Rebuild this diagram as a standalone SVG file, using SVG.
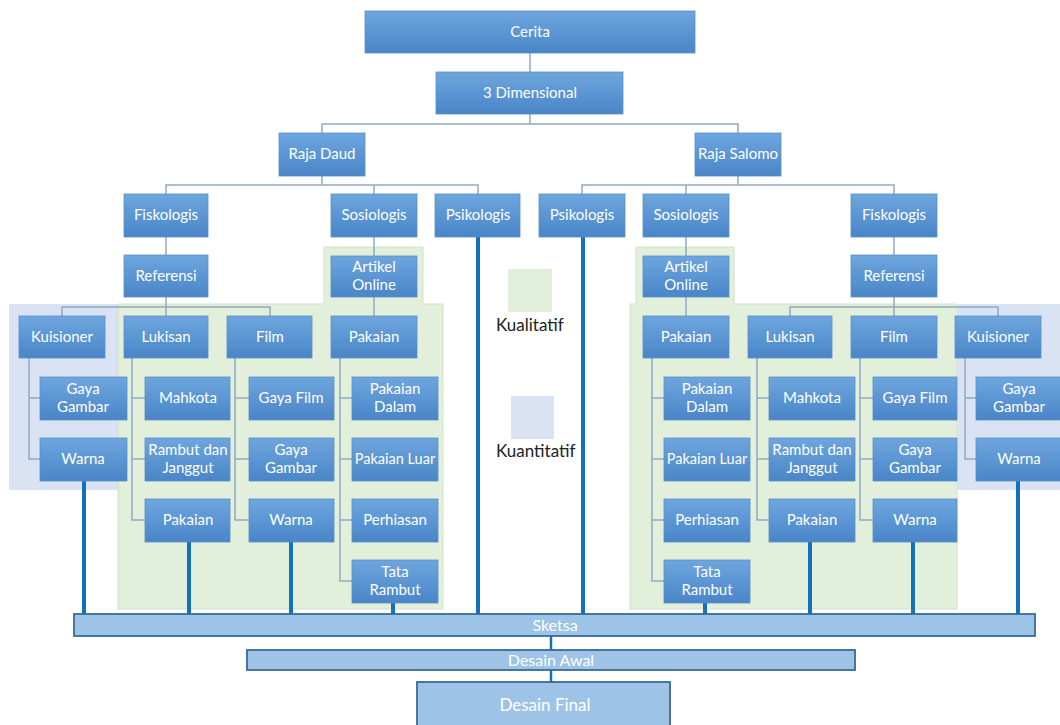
<svg xmlns="http://www.w3.org/2000/svg" width="1060" height="725" viewBox="0 0 1060 725">
<defs>
<linearGradient id="nodeGrad" x1="0" y1="0" x2="0" y2="1">
<stop offset="0" stop-color="#6ea6de"/>
<stop offset="1" stop-color="#4985c8"/>
</linearGradient>
<style>
.n rect{fill:url(#nodeGrad);stroke:#5a8fc8;stroke-width:0.8}
.n text{font-family:Lato,"Liberation Sans",sans-serif;font-size:15px;fill:#ffffff;text-anchor:middle}
.c{fill:none;stroke:#8eaac4;stroke-width:1.5}
.t{fill:none;stroke:#1270bd;stroke-width:4}
.bar rect{fill:#9dc3e6;stroke:#3b6a98;stroke-width:1.8}
.bar text{font-family:Lato,"Liberation Sans",sans-serif;font-size:16px;fill:#ffffff;text-anchor:middle}
.green{fill:#e2efda;stroke:#d2e0c8;stroke-width:1}
.blue{fill:#dae3f3;stroke:none}
.lg{font-family:Lato,"Liberation Sans",sans-serif;font-size:17px;fill:#222222}
</style>
</defs>
<rect width="1060" height="725" fill="#ffffff"/>

<g id="backgrounds">
<rect class="blue" x="9" y="304" width="109" height="186"/>
<path class="green" d="M118 304 H324 V247 H423 V304 H443 V609 H118 Z"/>
<path class="green" d="M630 304 H636 V247 H734 V304 H957 V609 H630 Z"/>
<rect class="blue" x="957" y="304" width="103" height="186"/>
</g>

<g id="legend">
<rect x="508" y="269" width="44" height="43" fill="#e2efda"/>
<text class="lg" x="496" y="331">Kualitatif</text>
<rect x="511" y="396" width="43" height="43" fill="#dae3f3"/>
<text class="lg" x="496" y="457">Kuantitatif</text>
</g>

<g id="connectors">
<path class="c" d="M530 53 V72"/>
<path class="c" d="M530 114 V124 M322 133 V124 H738 V133"/>
<path class="c" d="M322 176 V185 M166 194 V185 H478 V194 M374 185 V194"/>
<path class="c" d="M738 176 V185 M582 194 V185 H894 V194 M686 185 V194"/>
<path class="c" d="M166 237 V255 M374 237 V256 M894 237 V255 M686 237 V256"/>
<path class="c" d="M166 297 V316 M62 316 V307 H270 V316"/>
<path class="c" d="M374 297 V316"/>
<path class="c" d="M894 297 V316 M790 316 V307 H998 V316"/>
<path class="c" d="M686 297 V316"/>
<path class="c" d="M29 358 V459 H40 M29 398 H40"/>
<path class="c" d="M132 358 V520 H145 M132 398 H145 M132 459 H145"/>
<path class="c" d="M235 358 V520 H249 M235 398 H249 M235 459 H249"/>
<path class="c" d="M340 358 V581 H352 M340 398 H352 M340 459 H352 M340 520 H352"/>
<path class="c" d="M652 358 V581 H664 M652 398 H664 M652 459 H664 M652 520 H664"/>
<path class="c" d="M757 358 V520 H769 M757 398 H769 M757 459 H769"/>
<path class="c" d="M860 358 V520 H873 M860 398 H873 M860 459 H873"/>
<path class="c" d="M965 358 V459 H976 M965 398 H976"/>
<path class="t" d="M84 481 V614 M189 542 V614 M291 542 V614 M393 603 V614 M478 237 V614 M583 237 V614 M705 603 V614 M810 542 V614 M913 542 V614 M1018 481 V614"/>
<path class="t" style="stroke-width:2.5" d="M551 636 V650 M551 670 V682"/>
</g>

<g id="n-cerita" class="n"><rect x="365" y="11" width="330" height="42"/><text x="530" y="37">Cerita</text></g>
<g id="n-3d" class="n"><rect x="436" y="72" width="187" height="42"/><text x="530" y="98">3 Dimensional</text></g>
<g id="n-rajadaud" class="n"><rect x="279" y="133" width="86" height="43"/><text x="322" y="159">Raja Daud</text></g>
<g id="n-rajasalomo" class="n"><rect x="695" y="133" width="86" height="43"/><text x="738" y="159">Raja Salomo</text></g>

<g id="n-fisk-l" class="n"><rect x="124" y="194" width="84" height="43"/><text x="166" y="220">Fiskologis</text></g>
<g id="n-sos-l" class="n"><rect x="331" y="194" width="86" height="43"/><text x="374" y="220">Sosiologis</text></g>
<g id="n-psi-l" class="n"><rect x="435" y="194" width="85" height="43"/><text x="478" y="220">Psikologis</text></g>
<g id="n-psi-r" class="n"><rect x="539" y="194" width="86" height="43"/><text x="582" y="220">Psikologis</text></g>
<g id="n-sos-r" class="n"><rect x="643" y="194" width="86" height="43"/><text x="686" y="220">Sosiologis</text></g>
<g id="n-fisk-r" class="n"><rect x="851" y="194" width="86" height="43"/><text x="894" y="220">Fiskologis</text></g>

<g id="n-ref-l" class="n"><rect x="124" y="255" width="84" height="42"/><text x="166" y="281">Referensi</text></g>
<g id="n-art-l" class="n"><rect x="331" y="256" width="86" height="41"/><text x="374" y="272">Artikel</text><text x="374" y="290">Online</text></g>
<g id="n-art-r" class="n"><rect x="643" y="256" width="86" height="41"/><text x="686" y="272">Artikel</text><text x="686" y="290">Online</text></g>
<g id="n-ref-r" class="n"><rect x="851" y="255" width="86" height="42"/><text x="894" y="281">Referensi</text></g>

<g id="n-kuis-l" class="n"><rect x="19" y="316" width="86" height="42"/><text x="62" y="342">Kuisioner</text></g>
<g id="n-luk-l" class="n"><rect x="124" y="316" width="84" height="42"/><text x="166" y="342">Lukisan</text></g>
<g id="n-film-l" class="n"><rect x="227" y="316" width="85" height="42"/><text x="270" y="342">Film</text></g>
<g id="n-pak-l" class="n"><rect x="331" y="316" width="86" height="42"/><text x="374" y="342">Pakaian</text></g>
<g id="n-pak-r" class="n"><rect x="643" y="316" width="86" height="42"/><text x="686" y="342">Pakaian</text></g>
<g id="n-luk-r" class="n"><rect x="748" y="316" width="84" height="42"/><text x="790" y="342">Lukisan</text></g>
<g id="n-film-r" class="n"><rect x="851" y="316" width="86" height="42"/><text x="894" y="342">Film</text></g>
<g id="n-kuis-r" class="n"><rect x="955" y="316" width="86" height="42"/><text x="998" y="342">Kuisioner</text></g>

<g id="n-gg1-l" class="n"><rect x="40" y="377" width="87" height="43"/><text x="83" y="394">Gaya</text><text x="83" y="412">Gambar</text></g>
<g id="n-warna1-l" class="n"><rect x="40" y="438" width="87" height="43"/><text x="83" y="464">Warna</text></g>
<g id="n-mahkota-l" class="n"><rect x="145" y="377" width="85" height="43"/><text x="188" y="403">Mahkota</text></g>
<g id="n-rambut-l" class="n"><rect x="145" y="438" width="85" height="43"/><text x="188" y="455">Rambut dan</text><text x="188" y="473">Janggut</text></g>
<g id="n-pak2-l" class="n"><rect x="145" y="499" width="85" height="43"/><text x="188" y="525">Pakaian</text></g>
<g id="n-gfilm-l" class="n"><rect x="249" y="377" width="85" height="43"/><text x="291" y="403">Gaya Film</text></g>
<g id="n-gg2-l" class="n"><rect x="249" y="438" width="85" height="43"/><text x="291" y="455">Gaya</text><text x="291" y="473">Gambar</text></g>
<g id="n-warna2-l" class="n"><rect x="249" y="499" width="85" height="43"/><text x="291" y="525">Warna</text></g>
<g id="n-pdalam-l" class="n"><rect x="352" y="377" width="86" height="43"/><text x="395" y="394">Pakaian</text><text x="395" y="412">Dalam</text></g>
<g id="n-pluar-l" class="n"><rect x="352" y="438" width="86" height="43"/><text x="395" y="464" style="font-size:14.5px">Pakaian Luar</text></g>
<g id="n-perh-l" class="n"><rect x="352" y="499" width="86" height="43"/><text x="395" y="525">Perhiasan</text></g>
<g id="n-tata-l" class="n"><rect x="352" y="560" width="86" height="43"/><text x="395" y="577">Tata</text><text x="395" y="595">Rambut</text></g>

<g id="n-pdalam-r" class="n"><rect x="664" y="377" width="86" height="43"/><text x="707" y="394">Pakaian</text><text x="707" y="412">Dalam</text></g>
<g id="n-pluar-r" class="n"><rect x="664" y="438" width="86" height="43"/><text x="707" y="464" style="font-size:14.5px">Pakaian Luar</text></g>
<g id="n-perh-r" class="n"><rect x="664" y="499" width="86" height="43"/><text x="707" y="525">Perhiasan</text></g>
<g id="n-tata-r" class="n"><rect x="664" y="560" width="86" height="43"/><text x="707" y="577">Tata</text><text x="707" y="595">Rambut</text></g>
<g id="n-mahkota-r" class="n"><rect x="769" y="377" width="86" height="43"/><text x="812" y="403">Mahkota</text></g>
<g id="n-rambut-r" class="n"><rect x="769" y="438" width="86" height="43"/><text x="812" y="455">Rambut dan</text><text x="812" y="473">Janggut</text></g>
<g id="n-pak2-r" class="n"><rect x="769" y="499" width="86" height="43"/><text x="812" y="525">Pakaian</text></g>
<g id="n-gfilm-r" class="n"><rect x="873" y="377" width="84" height="43"/><text x="915" y="403">Gaya Film</text></g>
<g id="n-gg2-r" class="n"><rect x="873" y="438" width="84" height="43"/><text x="915" y="455">Gaya</text><text x="915" y="473">Gambar</text></g>
<g id="n-warna2-r" class="n"><rect x="873" y="499" width="84" height="43"/><text x="915" y="525">Warna</text></g>
<g id="n-gg1-r" class="n"><rect x="976" y="377" width="86" height="43"/><text x="1019" y="394">Gaya</text><text x="1019" y="412">Gambar</text></g>
<g id="n-warna1-r" class="n"><rect x="976" y="438" width="86" height="43"/><text x="1019" y="464">Warna</text></g>

<g id="n-sketsa" class="bar"><rect x="74" y="614" width="961" height="22"/><text x="555" y="631">Sketsa</text></g>
<g id="n-desainawal" class="bar"><rect x="247" y="650" width="608" height="20"/><text x="551" y="666">Desain Awal</text></g>
<g id="n-desainfinal" class="bar"><rect x="417" y="682" width="253" height="48"/><text x="545" y="711" style="font-size:17px">Desain Final</text></g>
</svg>
